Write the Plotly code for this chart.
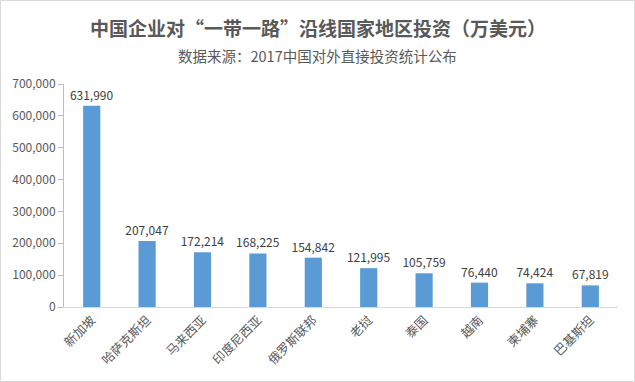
import plotly.graph_objects as go

categories = ["新加坡", "哈萨克斯坦", "马来西亚", "印度尼西亚", "俄罗斯联邦", "老挝", "泰国", "越南", "柬埔寨", "巴基斯坦"]
values = [631990, 207047, 172214, 168225, 154842, 121995, 105759, 76440, 74424, 67819]
y_ticks = [0, 100000, 200000, 300000, 400000, 500000, 600000, 700000]

W, H = 635, 382
ml, mr, mt, mb = 64, 17, 84, 75
pw, ph = W - ml - mr, H - mt - mb

font = "Noto Sans CJK SC, Microsoft YaHei, sans-serif"

fig = go.Figure(go.Bar(
    x=categories, y=values,
    marker=dict(color="#5B9BD5", line=dict(width=0)),
    width=0.31,
    text=[f"{v:,}" for v in values],
    textposition="outside",
    constraintext="none",
    textfont=dict(size=12, color="#404040", family=font),
    cliponaxis=False,
    hoverinfo="skip",
))

fig.update_layout(
    width=W, height=H,
    margin=dict(l=ml, r=mr, t=mt, b=mb, autoexpand=False),
    paper_bgcolor="white", plot_bgcolor="white",
    showlegend=False,
    font=dict(family=font, color="#595959"),
    annotations=[
        dict(text="<b>中国企业对“一带一路”沿线国家地区投资（万美元）</b>",
             xref="paper", yref="paper", x=(317.5 - ml) / pw, y=(H - mb - 28) / ph,
             xanchor="center", yanchor="middle", showarrow=False,
             font=dict(size=19, color="#595959", family=font)),
        dict(text="数据来源：2017中国对外直接投资统计公布",
             xref="paper", yref="paper", x=(317.5 - ml) / pw, y=(H - mb - 55) / ph,
             xanchor="center", yanchor="middle", showarrow=False,
             font=dict(size=14.5, color="#595959", family=font)),
    ],
    shapes=[
        dict(type="rect", xref="paper", yref="paper",
             x0=(0.5 - ml) / pw, x1=(W - 0.5 - ml) / pw,
             y0=(H - mb - (H - 0.5)) / ph, y1=(H - mb - 0.5) / ph,
             line=dict(color="#d9d9d9", width=1), layer="below"),
    ],
)

fig.update_xaxes(
    tickangle=-45, tickfont=dict(size=12.5, color="#595959", family=font),
    showline=True, linecolor="#d9d9d9", linewidth=1,
    ticks="", showgrid=False, automargin=False,
)
fig.update_yaxes(
    range=[0, 700000], tickvals=y_ticks, tickformat=",",
    tickfont=dict(size=12, color="#595959", family=font),
    showline=True, linecolor="#bfbfbf", linewidth=1,
    ticks="outside", ticklen=5, tickcolor="#bfbfbf",
    showgrid=False, zeroline=False, automargin=False,
)

fig.write_html("out.html", config={"displayModeBar": False},
               post_script="document.body.style.margin='0';document.body.style.overflow='hidden';")
